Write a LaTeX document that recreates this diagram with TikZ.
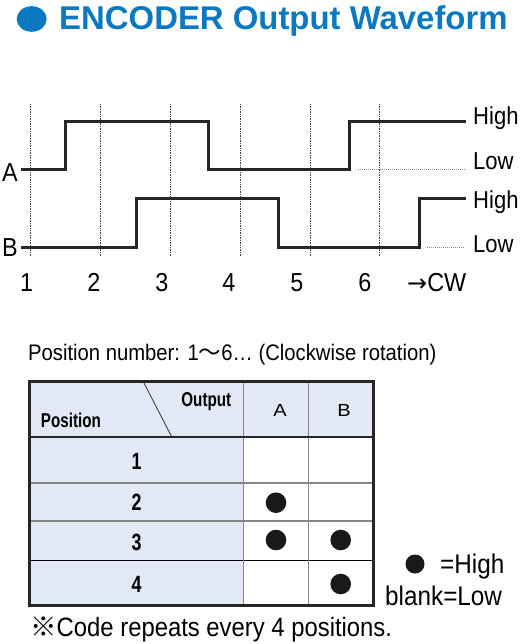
\documentclass[tikz,border=0pt]{standalone}
\usepackage{fontspec}
\setmainfont{Liberation Sans}
\newfontfamily\condfont{Liberation Sans}[FakeStretch=0.9]
\newfontfamily\narrowfont{Liberation Sans}[FakeStretch=0.76]
\newfontfamily\widefont{Liberation Sans}[FakeStretch=1.15]
\newfontfamily\arrowfont{DejaVu Sans}
\newfontfamily\cjkfont{Noto Sans CJK JP}
\usetikzlibrary{positioning}
\definecolor{ENblue}{HTML}{0B79C1}
\definecolor{ENpale}{HTML}{E2E8F5}
\definecolor{ENgrey}{HTML}{858585}

\begin{document}
\begin{tikzpicture}[
  x=1pt, y=-1pt,
  wave/.style={line width=3pt, black!85},
  guide/.style={densely dotted, line width=0.7pt, black!75},
  lowguide/.style={densely dotted, line width=1pt, black!45},
  lvl/.style={font=\condfont\fontsize{24.5}{24.5}\selectfont, anchor=base west, inner sep=0pt},
  chan/.style={font=\condfont\fontsize{26}{26}\selectfont, anchor=base west, inner sep=0pt},
  posnum/.style={font=\condfont\fontsize{26}{26}\selectfont, anchor=base, inner sep=0pt},
  head/.style={font=\narrowfont\bfseries\fontsize{20}{20}\selectfont, anchor=base, inner sep=0pt},
  rownum/.style={font=\narrowfont\bfseries\fontsize{23.5}{23.5}\selectfont, anchor=base, inner sep=0pt},
  note/.style={font=\condfont\fontsize{26.5}{26.5}\selectfont, anchor=base west, inner sep=0pt},
  cellgrid/.style={ENgrey, line width=1.6pt},
  frame/.style={black!85, line width=2.6pt},
  high/.style={fill=black!90},
]
\useasboundingbox (0,0) rectangle (530,644);

% title
\fill[ENblue] (31.7,19) ellipse (15 and 12.8);
\node[anchor=base west, inner sep=0pt, text=ENblue,
      font=\bfseries\fontsize{32.9}{32.9}\selectfont] (title) at (59,29.3)
  {ENCODER Output Waveform};

% waveform
\foreach \gx in {30,100.7,170.7,240,310,379}
  \draw[guide] (\gx,104) -- (\gx,257);
\draw[lowguide] (358,170) -- (465,170);
\draw[lowguide] (427,247.3) -- (465,247.3);

\draw[wave] (20.7,170) -- (65.3,170) -- (65.3,121.7) -- (208.3,121.7)
  -- (208.3,170) -- (349.3,170) -- (349.3,121.7) -- (466,121.7);
\draw[wave] (20.7,247.3) -- (136.7,247.3) -- (136.7,199) -- (278.3,199)
  -- (278.3,247.3) -- (419.3,247.3) -- (419.3,199) -- (466,199);

\node[chan] (chA) at (2,181.7) {A};
\node[chan] (chB) at (2,256.7) {B};
\node[lvl] (hiA) at (473,125) {High};
\node[lvl] (loA) at (473,169.3) {Low};
\node[lvl] (hiB) at (473,208.3) {High};
\node[lvl] (loB) at (473,252.7) {Low};

\foreach \n/\nx in {1/26.7,2/94,3/162,4/229,5/297,6/365}
  \node[posnum] (pos\n) at (\nx,291.7) {\n};
\node[note, font=\condfont\fontsize{26}{26}\selectfont] (cw) at (407,291.7)
  {{\arrowfont\fontsize{24}{24}\selectfont →}CW};

% code table
\node[note, font=\condfont\fontsize{22.5}{22.5}\selectfont] (caption) at (28,360.7)
  {Position number: 1{\cjkfont 〜}6… (Clockwise rotation)};

\fill[ENpale] (29.3,381.7) rectangle (373.3,436.7);
\fill[ENpale] (29.3,436.7) rectangle (243.3,605.7);
\foreach \ry in {482.7,521}
  \draw[cellgrid] (29.3,\ry) -- (373.3,\ry);
\draw[black, line width=1pt] (29.3,560) -- (373.3,560);
\foreach \cx in {243.3,308.3}
  \draw[cellgrid] (\cx,381.7) -- (\cx,605.7);
\draw[black!85, line width=2.2pt] (29.3,436.7) -- (373.3,436.7);
\draw[black!80, line width=0.8pt] (143.3,381.7) -- (171.7,436.7);
\draw[frame] (29.3,381.7) rectangle (373.3,605.7);

\node[head] (outhd) at (206.3,406) {Output};
\node[head, anchor=base west] (poshd) at (40.7,427.3) {Position};
\node[anchor=base, inner sep=0pt, font=\widefont\fontsize{17.5}{17.5}\selectfont] (colA) at (280,416) {A};
\node[anchor=base, inner sep=0pt, font=\widefont\fontsize{17.5}{17.5}\selectfont] (colB) at (344,416) {B};

\node[rownum] (row1) at (136.7,469.3) {1};
\node[rownum] (row2) at (136.7,510.7) {2};
\node[rownum] (row3) at (136.7,550) {3};
\node[rownum] (row4) at (136.7,592.7) {4};

\fill[high] (276,502.7) circle (10.3);
\fill[high] (276,540) circle (10.3);
\fill[high] (340.7,540) circle (10.3);
\fill[high] (340.7,584) circle (10.3);

% legend and footnote
\fill[high] (415,564) circle (9.5);
\node[note, font=\condfont\fontsize{27}{27}\selectfont] (keyhi) at (440,573.3) {=High};
\node[note, font=\condfont\fontsize{27}{27}\selectfont] (keylo) at (385,605) {blank=Low};
\node[note] (repeat) at (30,636.7) {{\cjkfont ※}Code repeats every 4 positions.};
\end{tikzpicture}
\end{document}
